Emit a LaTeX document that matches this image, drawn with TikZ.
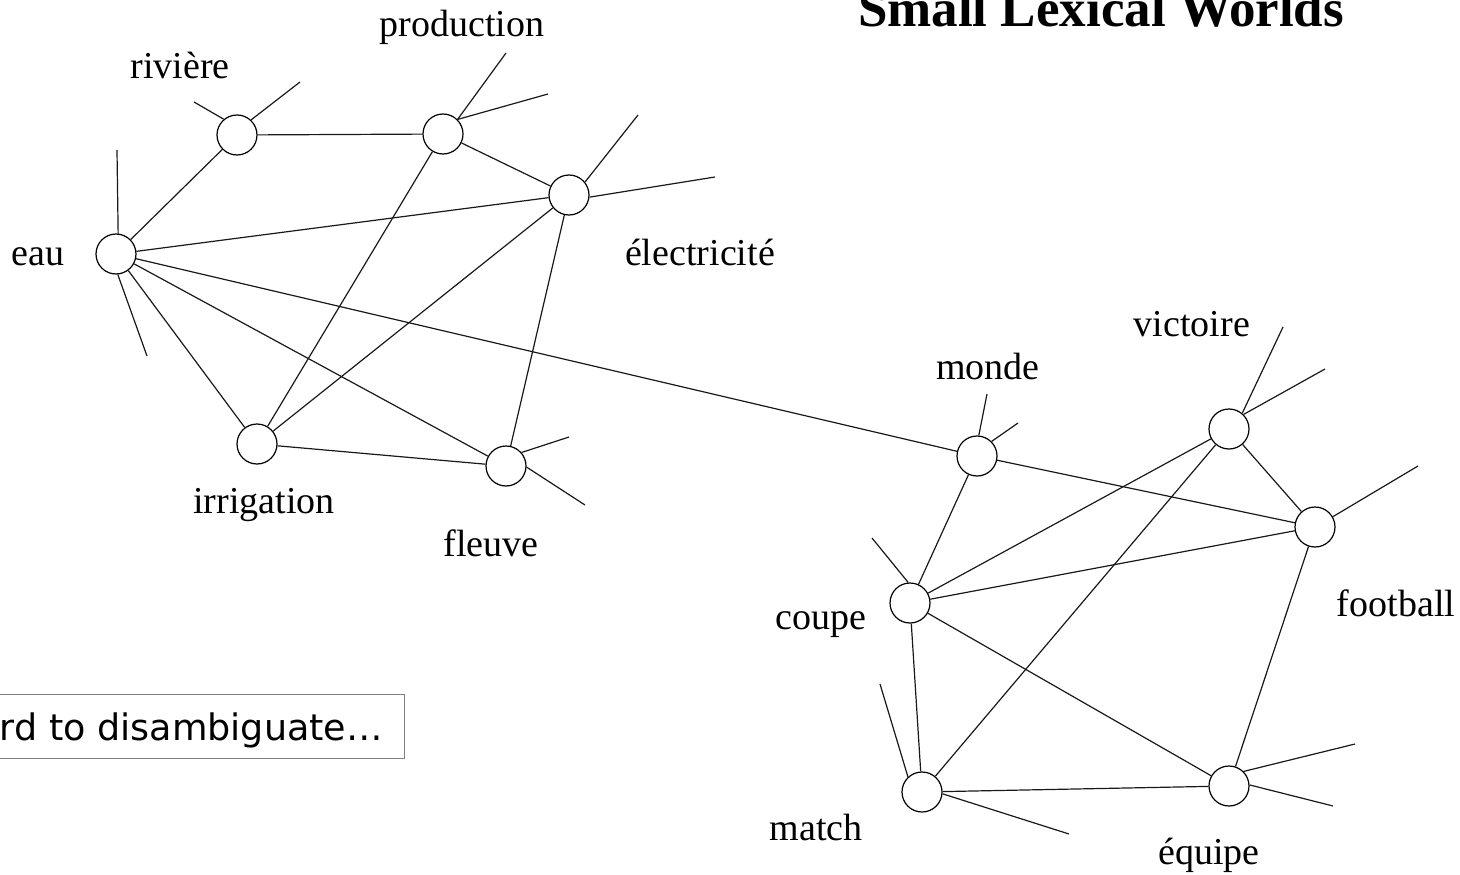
\documentclass[tikz,border=0pt]{standalone}
\usepackage{fontspec}
\setmainfont{Liberation Serif}
\newfontfamily\hintfont{DejaVu Sans}
\begin{document}
\begin{tikzpicture}[x=1pt,y=-1pt,
  word/.style={circle,draw,line width=1.2pt,minimum size=40pt,inner sep=0pt,fill=white},
  link/.style={line width=1.2pt,draw=black!90},
  lbl/.style={anchor=base,inner sep=0pt,font=\fontsize{38}{40}\selectfont},
  ttl/.style={anchor=base,inner sep=0pt,font=\fontsize{53}{56}\selectfont\bfseries},
  hintbox/.style={draw=black!50,line width=1.3pt,anchor=north east,minimum width=440pt,minimum height=64pt,inner sep=0pt}
]
\useasboundingbox (0,0) rectangle (1460,875);
\clip (0,0) rectangle (1460,875);

% title, running off the top edge
\node[ttl] (title) at (1101,27) {Small Lexical Worlds};

% hint box, partly outside the page on the left
\node[hintbox] (hbox) at (405,694) {};
\node[anchor=base east,inner sep=0pt,font=\hintfont\fontsize{36.5}{40}\selectfont] (hint) at (383,740) {rd to disambiguate…};

% word nodes
\node[word] (riv)  at (237,135) {};
\node[word] (prod) at (443,134) {};
\node[word] (elec) at (569,195) {};
\node[word] (eau)  at (116,254) {};
\node[word] (irr)  at (257,444) {};
\node[word] (fle)  at (506,466) {};
\node[word] (mon)  at (977,456) {};
\node[word] (vic)  at (1229,429) {};
\node[word] (foot) at (1315,527) {};
\node[word] (coup) at (910,603) {};
\node[word] (mat)  at (922,792) {};
\node[word] (equ)  at (1229,786) {};

% free ends of the dangling links
\coordinate (riv-a)  at (194,102);
\coordinate (riv-b)  at (300,82);
\coordinate (prod-a) at (506,53);
\coordinate (prod-b) at (548,94);
\coordinate (elec-a) at (638,115);
\coordinate (elec-b) at (715,177);
\coordinate (eau-a)  at (117,150);
\coordinate (eau-b)  at (147,356);
\coordinate (fle-a)  at (569,437);
\coordinate (fle-b)  at (585,505);
\coordinate (mon-a)  at (987,394);
\coordinate (mon-b)  at (1018,423);
\coordinate (vic-a)  at (1283,327);
\coordinate (vic-b)  at (1325,369);
\coordinate (foot-a) at (1418,466);
\coordinate (coup-a) at (872,538);
\coordinate (mat-a)  at (880,684);
\coordinate (mat-b)  at (1069,834);
\coordinate (equ-a)  at (1355,744);
\coordinate (equ-b)  at (1333,806);

% links between words
\draw[link] (riv) -- (prod);
\draw[link] (riv) -- (eau);
\draw[link] (prod) -- (elec);
\draw[link] (prod) -- (irr);
\draw[link] (eau) -- (elec);
\draw[link] (elec) -- (irr);
\draw[link] (elec) -- (fle);
\draw[link] (eau) -- (irr);
\draw[link] (eau) -- (fle);
\draw[link] (eau) -- (mon);
\draw[link] (irr) -- (fle);
\draw[link] (mon) -- (foot);
\draw[link] (mon) -- (coup);
\draw[link] (vic) -- (coup);
\draw[link] (vic) -- (foot);
\draw[link] (vic) -- (mat);
\draw[link] (coup) -- (foot);
\draw[link] (coup) -- (mat);
\draw[link] (coup) -- (equ);
\draw[link] (mat) -- (equ);
\draw[link] (foot) -- (equ);

% dangling links
\draw[link] (riv.130) -- (riv-a);
\draw[link] (riv.47) -- (riv-b);
\draw[link] (prod.45) -- (prod-a);
\draw[link] (prod.45) -- (prod-b);
\draw[link] (elec.39) -- (elec-a);
\draw[link] (elec.-6) -- (elec-b);
\draw[link] (eau.84) -- (eau-a);
\draw[link] (eau.-85) -- (eau-b);
\draw[link] (fle.41) -- (fle-a);
\draw[link] (fle.-3) -- (fle-b);
\draw[link] (mon.85) -- (mon-a);
\draw[link] (mon.45) -- (mon-b);
\draw[link] (vic.50) -- (vic-a);
\draw[link] (vic.45) -- (vic-b);
\draw[link] (foot.30) -- (foot-a);
\draw[link] (coup.95) -- (coup-a);
\draw[link] (mat.133) -- (mat-a);
\draw[link] (mat.-5) -- (mat-b);
\draw[link] (equ.45) -- (equ-a);
\draw[link] (equ.3) -- (equ-b);

% word labels
\node[lbl] (l-prod) at (462,37)  {production};
\node[lbl] (l-riv)  at (180,79)  {rivière};
\node[lbl] (l-eau)  at (38,265)  {eau};
\node[lbl] (l-elec) at (700,265) {électricité};
\node[lbl] (l-irr)  at (264,513) {irrigation};
\node[lbl] (l-fle)  at (491,556) {fleuve};
\node[lbl] (l-mon)  at (988,379) {monde};
\node[lbl] (l-vic)  at (1192,336) {victoire};
\node[lbl] (l-coup) at (821,629) {coupe};
\node[lbl] (l-foot) at (1396,616) {football};
\node[lbl] (l-mat)  at (816,840) {match};
\node[lbl] (l-equ)  at (1209,864) {équipe};
\end{tikzpicture}
\end{document}
